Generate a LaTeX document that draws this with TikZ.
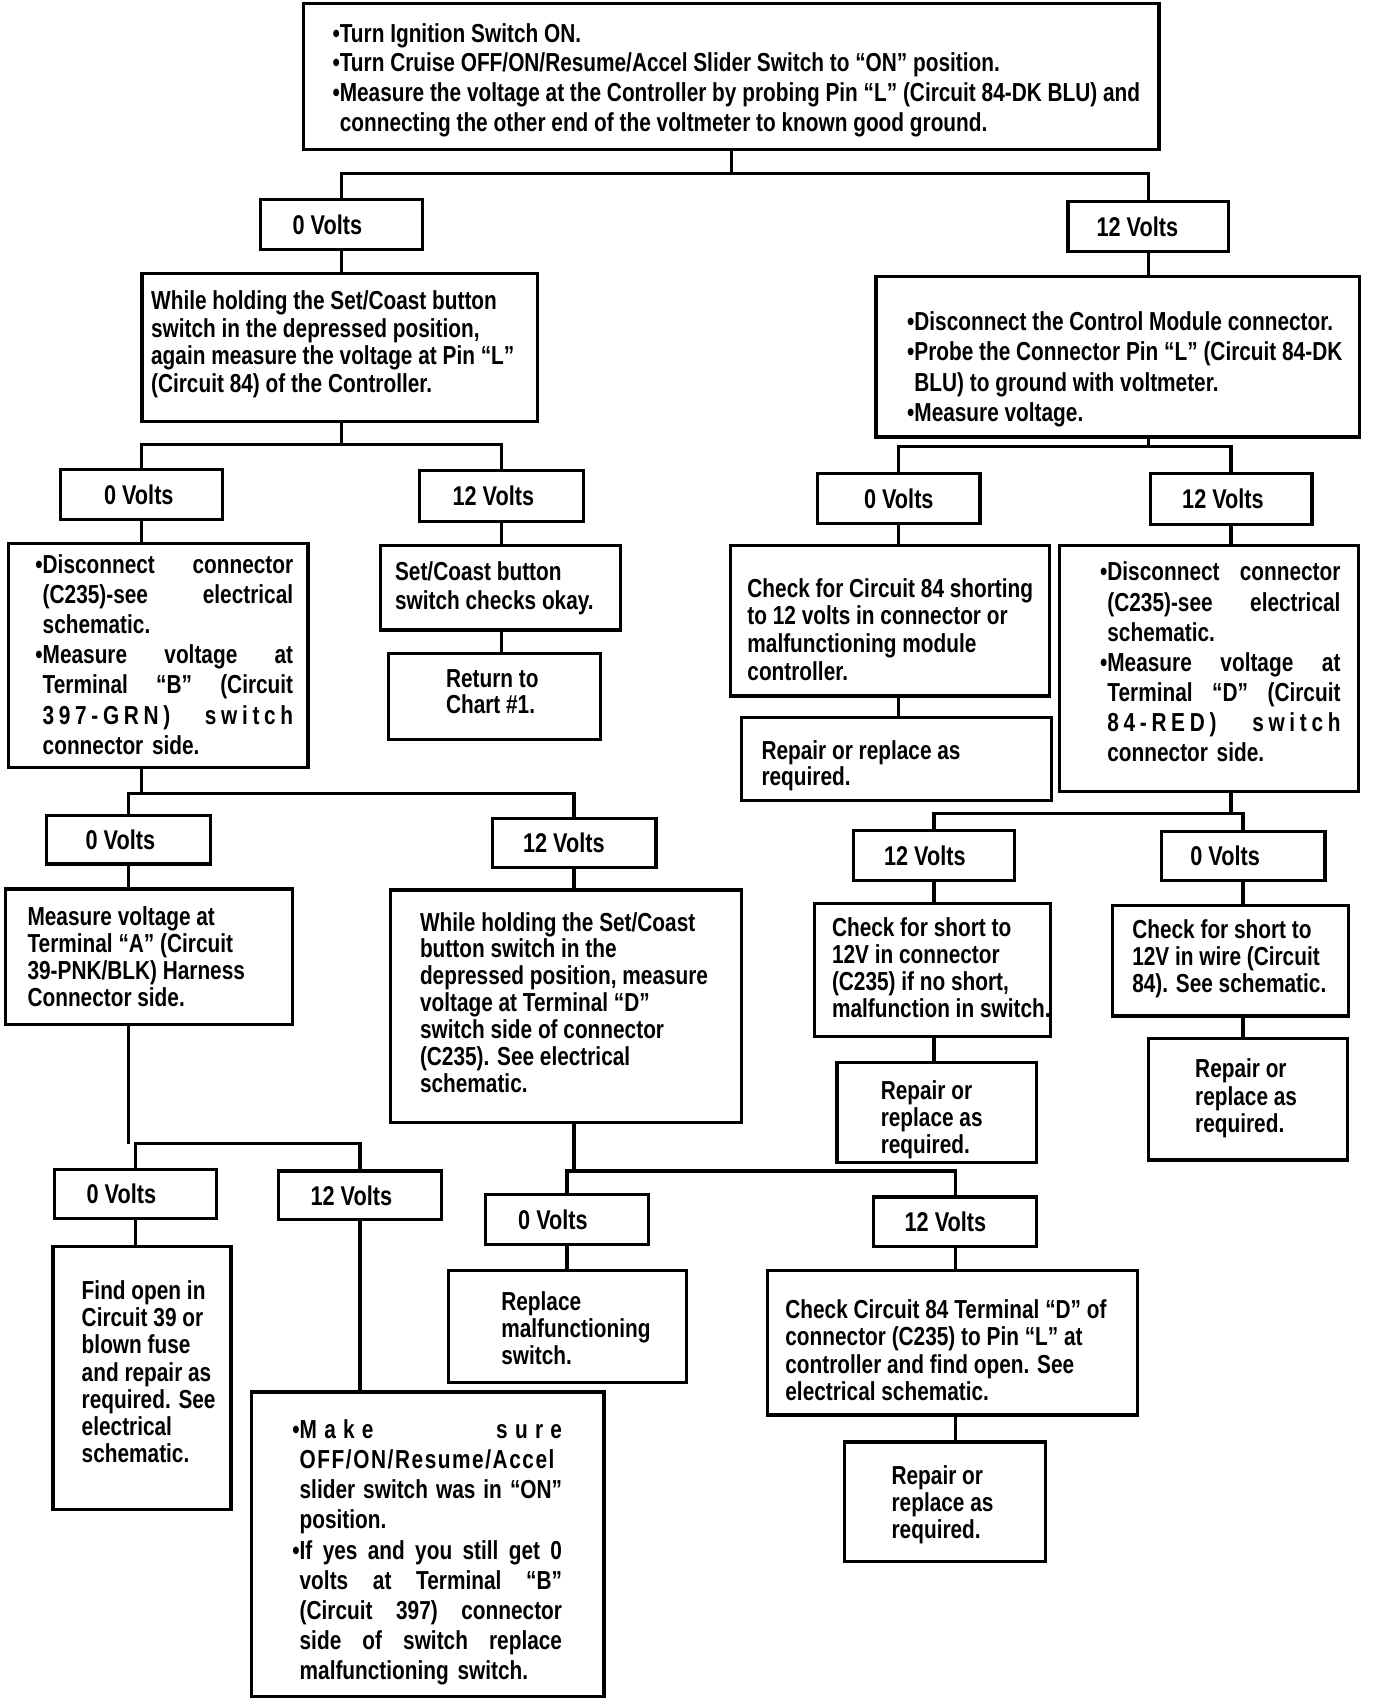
\documentclass[tikz,border=0pt]{standalone}
\usepackage{fontspec}
\setmainfont{Liberation Sans}[FakeStretch=0.8]
\usetikzlibrary{fit}
\newcommand\ls{\addfontfeature{LetterSpace=18}}
\newcommand\lsb{\addfontfeature{LetterSpace=6}}
\newcommand\bul{\leavevmode\llap{•}}
\begin{document}
\begin{tikzpicture}[x=0.5pt,y=-0.5pt,
  box/.style={draw, inner sep=0pt, line width=1.5pt},
  lbl/.style={font=\bfseries\fontsize{12.5}{14}\selectfont, inner sep=0pt},
  txt/.style={anchor=north west, inner sep=0pt, align=left, font=\bfseries\fontsize{12}{#1}\selectfont},
  txt/.default=12.5pt,
  conn/.style={line width=1.5pt}]
\fill[white] (0,0) rectangle (1269,1568);
\useasboundingbox (0,0) rectangle (1269,1568);
\newcommand\bx[5]{\node[box, fit={(#2,#3) (#4,#5)}] (#1) {};}
\newcommand\vb[7]{\node[box, fit={(#2,#3) (#4,#5)}] (#1) {};
  \node[lbl] (#1t) at (#6,{(#3+#5)/2}) {#7};}
% ---------- boxes ----------
\bx{T}{280}{3}{1069}{138}
\node[txt=13.8pt] (Tt) at (313,21) {\bul Turn Ignition Switch ON.
\\\bul Turn Cruise OFF/ON/Resume/Accel Slider Switch to “ON” position.
\\\bul Measure the voltage at the Controller by probing Pin “L” (Circuit 84-DK BLU) and
\\connecting the other end of the voltmeter to known good ground.};
\vb{V0a}{240}{184}{390}{230}{302}{0 Volts}
\vb{V12a}{985}{186}{1133}{232}{1049}{12 Volts}
\bx{WH1}{131}{252}{496}{389}
\node[txt=12.7pt] (WH1t) at (139,268) {While holding the Set/Coast button
\\switch in the depressed position,
\\again measure the voltage at Pin “L”
\\(Circuit 84) of the Controller.};
\bx{DC}{808}{255}{1254}{403}
\node[txt=14pt] (DCt) at (843,287) {\bul Disconnect the Control Module connector.
\\\bul Probe the Connector Pin “L” (Circuit 84-DK
\\BLU) to ground with voltmeter.
\\\bul Measure voltage.};
\vb{V0b}{56}{433}{205}{479}{128}{0 Volts}
\vb{V12b}{387}{434}{538}{481}{455}{12 Volts}
\vb{V0c}{754}{437}{904}{483}{829}{0 Volts}
\vb{V12c}{1061}{437}{1210}{484}{1128}{12 Volts}
\bx{DL}{8}{501}{284}{708}
\node[txt=13.9pt, text width=115.5pt] (DLt) at (39,511) {\bul Disconnect\hfill connector
\\(C235)-see\hfill electrical
\\schematic.
\\\bul Measure\hfill voltage\hfill at
\\Terminal\hfill “B”\hfill (Circuit
\\{\ls 397-GRN)}\hfill{\ls switch}
\\connector side.};
\bx{SC}{351}{503}{572}{581}
\node[txt=13pt] (SCt) at (364,518) {Set/Coast button
\\switch checks okay.};
\bx{RT}{358}{603}{554}{682}
\node[txt=12pt] (RTt) at (411,617) {Return to
\\Chart \#1.};
\bx{CK}{674}{503}{968}{642}
\node[txt=12.8pt] (CKt) at (689,533) {Check for Circuit 84 shorting
\\to 12 volts in connector or
\\malfunctioning module
\\controller.};
\bx{DR}{977}{503}{1253}{730}
\node[txt=13.9pt, text width=107.5pt] (DRt) at (1021,518) {\bul Disconnect\hfill connector
\\(C235)-see\hfill electrical
\\schematic.
\\\bul Measure\hfill voltage\hfill at
\\Terminal\hfill “D”\hfill (Circuit
\\{\ls 84-RED)}\hfill{\ls switch}
\\connector side.};
\bx{RP1}{684}{662}{970}{738}
\node[txt=12pt] (RP1t) at (702,683) {Repair or replace as
\\required.};
\vb{V0d}{43}{752}{194}{797}{111}{0 Volts}
\vb{V12d}{454}{755}{605}{800}{520}{12 Volts}
\vb{V12e}{787}{766}{936}{812}{853}{12 Volts}
\vb{V0e}{1071}{767}{1222}{812}{1130}{0 Volts}
\bx{MV}{5}{820}{270}{945}
\node[txt] (MVt) at (25,836) {Measure voltage at
\\Terminal “A” (Circuit
\\39-PNK/BLK) Harness
\\Connector side.};
\bx{WH2}{360}{821}{684}{1035}
\node[txt=12.4pt] (WH2t) at (387,841) {While holding the Set/Coast
\\button switch in the
\\depressed position, measure
\\voltage at Terminal “D”
\\switch side of connector
\\(C235). See electrical
\\schematic.};
\bx{SH}{751}{833}{969}{956}
\node[txt] (SHt) at (767,846) {Check for short to
\\12V in connector
\\(C235) if no short,
\\malfunction in switch.};
\bx{SW}{1026}{835}{1244}{937}
\node[txt] (SWt) at (1044,848) {Check for short to
\\12V in wire (Circuit
\\84). See schematic.};
\bx{RP2}{772}{980}{956}{1072}
\node[txt] (RP2t) at (812,996) {Repair or
\\replace as
\\required.};
\bx{RP3}{1059}{958}{1243}{1070}
\node[txt=12.7pt] (RP3t) at (1102,976) {Repair or
\\replace as
\\required.};
\vb{V0f}{50}{1079}{200}{1124}{112}{0 Volts}
\vb{V12f}{257}{1080}{407}{1125}{324}{12 Volts}
\vb{V0g}{448}{1102}{598}{1148}{510}{0 Volts}
\vb{V12g}{806}{1104}{956}{1150}{872}{12 Volts}
\bx{FO}{49}{1150}{213}{1392}
\node[txt] (FOt) at (75,1181) {Find open in
\\Circuit 39 or
\\blown fuse
\\and repair as
\\required. See
\\electrical
\\schematic.};
\bx{MS}{232}{1284}{557}{1565}
\node[txt=13.9pt, text width=121pt] (MSt) at (276,1309) {\bul{\addfontfeature{LetterSpace=28}Make}\hfill{\addfontfeature{LetterSpace=28}sure}
\\{\lsb OFF/ON/Resume/Accel}
\\slider\hfill switch\hfill was\hfill in\hfill “ON”
\\position.
\\\bul If\hfill yes\hfill and\hfill you\hfill still\hfill get\hfill 0
\\volts\hfill at\hfill Terminal\hfill “B”
\\(Circuit\hfill 397)\hfill connector
\\side\hfill of\hfill switch\hfill replace
\\malfunctioning switch.};
\bx{RS}{414}{1172}{633}{1275}
\node[txt] (RSt) at (462,1191) {Replace
\\malfunctioning
\\switch.};
\bx{CC}{708}{1172}{1049}{1305}
\node[txt=12.7pt] (CCt) at (724,1198) {Check Circuit 84 Terminal “D” of
\\connector (C235) to Pin “L” at
\\controller and find open. See
\\electrical schematic.};
\bx{RP4}{779}{1330}{964}{1440}
\node[txt] (RP4t) at (822,1351) {Repair or
\\replace as
\\required.};
% ---------- connectors ----------
\coordinate (j1) at (0,160);
\coordinate (j2) at (0,410);
\coordinate (j3) at (0,412);
\coordinate (j4) at (0,732);
\coordinate (j5) at (0,750);
\coordinate (j6) at (0,1055);
\coordinate (j7) at (0,1080);
% vertical line on the x of #1, from the bottom of #2 to the top of #3
\newcommand\vl[3]{\draw[conn] (#1.south |- #2.south) -- (#1.south |- #3.north);}
\newcommand\brk[3]{\draw[conn] (#1.north) -- (#1.north |- #3) -- (#2.north |- #3) -- (#2.north);}
\draw[conn] (T.south) -- (T.south |- j1);
\brk{V0a}{V12a}{j1}
\vl{V0a}{V0a}{WH1}
\vl{V12a}{V12a}{DC}
\draw[conn] (V0a.south |- WH1.south) -- (V0a.south |- j2);
\brk{V0b}{V12b}{j2}
\draw[conn] (V12a.south |- DC.south) -- (V12a.south |- j3);
\brk{V0c}{V12c}{j3}
\vl{V0b}{V0b}{DL}
\vl{V12b}{V12b}{SC}
\vl{V12b}{SC}{RT}
\vl{V0c}{V0c}{CK}
\vl{V0c}{CK}{RP1}
\vl{V12c}{V12c}{DR}
\draw[conn] (V0b.south |- DL.south) -- (V0b.south |- j4);
\brk{V0d}{V12d}{j4}
\draw[conn] (V12c.south |- DR.south) -- (V12c.south |- j5);
\brk{V12e}{V0e}{j5}
\vl{V0d}{V0d}{MV}
\vl{V12d}{V12d}{WH2}
\vl{V12e}{V12e}{SH}
\vl{V12e}{SH}{RP2}
\vl{V0e}{V0e}{SW}
\vl{V0e}{SW}{RP3}
\draw[conn] (V0d.south |- MV.south) -- (V0d.south |- j6);
\brk{V0f}{V12f}{j6}
\draw[conn] (V12d.south |- WH2.south) -- (V12d.south |- j7);
\brk{V0g}{V12g}{j7}
\vl{V0f}{V0f}{FO}
\vl{V12f}{V12f}{MS}
\vl{V0g}{V0g}{RS}
\vl{V12g}{V12g}{CC}
\vl{V12g}{CC}{RP4}
\end{tikzpicture}
\end{document}
